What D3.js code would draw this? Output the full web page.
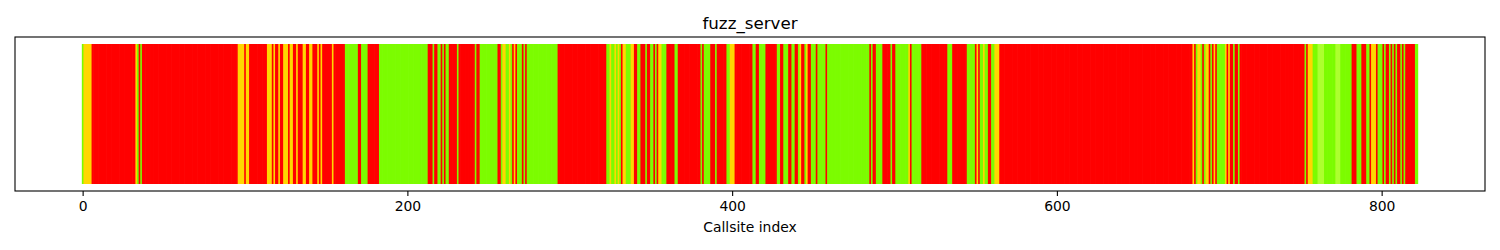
<!DOCTYPE html>
<html>
<head>
<meta charset="utf-8">
<script src="https://cdn.jsdelivr.net/npm/d3@7"></script>
<style>
  html, body { margin: 0; padding: 0; background: #ffffff; }
  svg { display: block; font-family: "DejaVu Sans", sans-serif; }
</style>
</head>
<body>
<svg id="chart" width="1500" height="250"></svg>
<script>
// ---- data: status of each callsite, read as runs [firstIndex, lastIndex, status]
const chartTitle = "fuzz_server";
const xLabel = "Callsite index";
const xTicks = [0, 200, 400, 600, 800];
const callsiteCount = 823;
const statusColors = { R: "#ff0000", Y: "#ffd700", G: "#7cfc00", L: "#adff2f" };
const statusRuns = [
  [0,0,"G"],[1,5,"Y"],[6,32,"R"],[33,33,"Y"],[34,34,"G"],[35,35,"R"],[36,36,"G"],
  [37,95,"R"],[96,99,"Y"],[100,100,"R"],[101,102,"Y"],[103,113,"R"],[114,116,"Y"],
  [117,117,"R"],[118,118,"Y"],[119,120,"R"],[121,121,"Y"],[122,123,"R"],[124,126,"Y"],
  [127,127,"R"],[128,129,"Y"],[130,131,"R"],[132,132,"Y"],[133,135,"R"],[136,137,"Y"],
  [138,139,"R"],[140,141,"Y"],[142,144,"R"],[145,145,"Y"],[146,146,"R"],[147,147,"Y"],
  [148,153,"R"],[154,154,"Y"],[155,161,"R"],[162,169,"G"],[170,171,"R"],[172,175,"G"],
  [176,182,"R"],[183,212,"G"],[213,215,"R"],[216,216,"G"],[217,218,"R"],[219,220,"G"],
  [221,221,"R"],[222,222,"G"],[223,223,"R"],[224,225,"G"],[226,230,"R"],[231,231,"G"],
  [232,241,"R"],[242,242,"G"],[243,244,"R"],[245,255,"G"],[256,257,"R"],[258,258,"G"],
  [259,260,"Y"],[261,262,"G"],[263,263,"Y"],[264,264,"G"],[265,265,"R"],[266,266,"Y"],
  [267,267,"R"],[268,270,"G"],[271,271,"R"],[272,272,"G"],[273,273,"R"],[274,292,"G"],
  [293,322,"R"],[323,324,"G"],[325,325,"Y"],[326,327,"G"],[328,328,"Y"],[329,329,"G"],
  [330,330,"Y"],[331,331,"G"],[332,332,"R"],[333,334,"Y"],[335,337,"G"],[338,339,"Y"],
  [340,341,"R"],[342,343,"G"],[344,346,"R"],[347,347,"G"],[348,349,"R"],[350,351,"G"],
  [352,352,"R"],[353,353,"G"],[354,354,"R"],[355,356,"Y"],[357,359,"G"],[360,364,"R"],
  [365,366,"G"],[367,380,"R"],[381,381,"G"],[382,382,"R"],[383,386,"G"],[387,389,"R"],
  [390,390,"G"],[391,396,"R"],[397,398,"G"],[399,401,"Y"],[402,412,"R"],[413,414,"G"],
  [415,416,"R"],[417,420,"G"],[421,427,"R"],[428,429,"G"],[430,431,"R"],[432,434,"G"],
  [435,436,"R"],[437,438,"G"],[439,440,"R"],[441,441,"G"],[442,442,"Y"],[443,444,"R"],
  [445,445,"G"],[446,446,"Y"],[447,448,"R"],[449,451,"G"],[452,452,"R"],[453,457,"G"],
  [458,458,"R"],[459,484,"G"],[485,485,"R"],[486,486,"G"],[487,488,"R"],[489,492,"G"],
  [493,497,"R"],[498,498,"G"],[499,500,"R"],[501,508,"G"],[509,509,"Y"],[510,510,"R"],
  [511,516,"G"],[517,532,"R"],[533,535,"G"],[536,544,"R"],[545,549,"G"],[550,550,"R"],
  [551,551,"Y"],[552,552,"R"],[553,554,"G"],[555,555,"Y"],[556,557,"G"],[558,559,"R"],
  [560,561,"G"],[562,564,"Y"],[565,683,"R"],[684,684,"Y"],[685,685,"R"],[686,686,"G"],
  [687,688,"Y"],[689,689,"G"],[690,690,"R"],[691,691,"G"],[692,693,"Y"],[694,694,"R"],
  [695,695,"G"],[696,696,"R"],[697,697,"Y"],[698,698,"R"],[699,703,"G"],[704,704,"Y"],
  [705,705,"R"],[706,706,"Y"],[707,708,"R"],[709,709,"G"],[710,711,"R"],[712,712,"G"],
  [713,752,"R"],[753,753,"G"],[754,754,"R"],[755,757,"Y"],[758,760,"G"],[761,764,"L"],
  [765,771,"G"],[772,774,"L"],[775,781,"G"],[782,784,"R"],[785,787,"G"],[788,790,"R"],
  [791,792,"G"],[793,793,"R"],[794,796,"Y"],[797,797,"R"],[798,800,"G"],[801,801,"R"],
  [802,802,"G"],[803,804,"R"],[805,805,"G"],[806,806,"R"],[807,807,"G"],[808,808,"R"],
  [809,809,"G"],[810,811,"R"],[812,812,"G"],[813,813,"R"],[814,814,"G"],[815,820,"R"],
  [821,822,"G"]
];

// expand runs into one record per callsite
const callsites = [];
statusRuns.forEach(([a, b, s]) => { for (let i = a; i <= b; i++) callsites.push({ index: i, status: s }); });

// ---- layout
const svg = d3.select("#chart");
const plot = { left: 15, right: 1485, top: 37, bottom: 191 };
const barW = 1;
const lo = -barW / 2, hi = (callsiteCount - 1) + barW / 2;
const pad = (hi - lo) * 0.05;
const x = d3.scaleLinear().domain([lo - pad, hi + pad]).range([plot.left, plot.right]);
const y = d3.scaleLinear().domain([-0.05, 1.05]).range([plot.bottom, plot.top]);

// bars: each slightly overlaps the next one to avoid anti-aliasing seams
svg.append("g")
  .selectAll("rect")
  .data(callsites)
  .join("rect")
  .attr("x", d => x(d.index - barW / 2))
  .attr("width", d => x(d.index + barW / 2) - x(d.index - barW / 2) + (d.index < callsiteCount - 1 ? 0.7 : 0))
  .attr("y", y(1))
  .attr("height", y(0) - y(1))
  .attr("fill", d => statusColors[d.status]);

// frame
svg.append("rect")
  .attr("x", plot.left).attr("y", plot.top)
  .attr("width", plot.right - plot.left).attr("height", plot.bottom - plot.top)
  .attr("fill", "none").attr("stroke", "#000").attr("stroke-width", 1.1);

// x axis
const axis = svg.append("g")
  .attr("transform", `translate(0,${plot.bottom})`)
  .call(d3.axisBottom(x).tickValues(xTicks).tickFormat(d3.format("d")).tickSize(4.9).tickPadding(4.9));
axis.select(".domain").remove();
axis.selectAll(".tick line").attr("stroke", "#000").attr("stroke-width", 1.1);
axis.selectAll(".tick text").attr("fill", "#000").style("font-size", "13.9px").style("font-family", "DejaVu Sans");

// labels
svg.append("text")
  .attr("x", (plot.left + plot.right) / 2).attr("y", 232)
  .attr("text-anchor", "middle").style("font-size", "13.9px").attr("fill", "#000")
  .text(xLabel);
svg.append("text")
  .attr("x", (plot.left + plot.right) / 2).attr("y", 28.7)
  .attr("text-anchor", "middle").style("font-size", "16.7px").attr("fill", "#000")
  .text(chartTitle);
</script>
</body>
</html>
